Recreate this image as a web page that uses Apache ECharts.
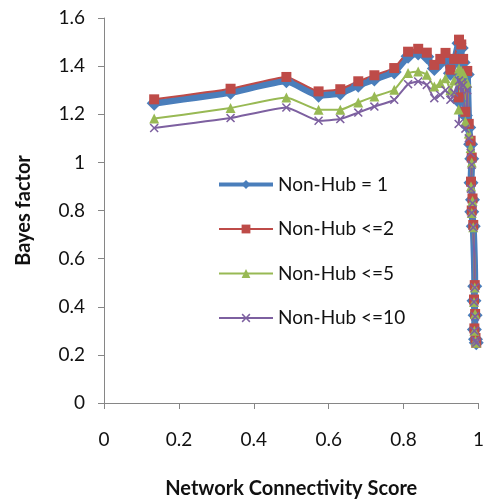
<!DOCTYPE html>
<html>
<head>
<meta charset="utf-8">
<script src="https://cdn.jsdelivr.net/npm/echarts@6/dist/echarts.min.js"></script>
<style>
  html, body { margin: 0; padding: 0; background: #fff; }
  #chart { width: 487px; height: 504px; }
</style>
</head>
<body>
<div id="chart"></div>
<script>
// Network connectivity score (x) shared by all four series
const connectivity = [
  0.134, 0.338, 0.487, 0.573, 0.631, 0.679, 0.722, 0.775, 0.812, 0.839,
  0.862, 0.882, 0.898, 0.912, 0.925, 0.935, 0.948, 0.954, 0.947, 0.959,
  0.965, 0.970, 0.974, 0.979, 0.982, 0.980, 0.984, 0.982, 0.986, 0.990,
  0.988, 0.991, 0.989, 0.992, 0.994
];

// Bayes factor per non-hub threshold
const nonHub1 = [
  1.246, 1.291, 1.339, 1.279, 1.288, 1.321, 1.346, 1.376, 1.441, 1.455,
  1.439, 1.390, 1.415, 1.440, 1.370, 1.415, 1.495, 1.475, 1.255, 1.415,
  1.195, 1.365, 1.145, 1.075, 1.015, 0.915, 0.845, 0.795, 0.735, 0.485,
  0.425, 0.365, 0.305, 0.265, 0.250
];
const nonHub2 = [
  1.262, 1.306, 1.355, 1.295, 1.304, 1.337, 1.362, 1.392, 1.460, 1.472,
  1.456, 1.405, 1.430, 1.455, 1.385, 1.430, 1.510, 1.490, 1.270, 1.430,
  1.210, 1.380, 1.160, 1.090, 1.020, 0.920, 0.850, 0.800, 0.740, 0.490,
  0.430, 0.370, 0.310, 0.270, 0.250
];
const nonHub5 = [
  1.182, 1.226, 1.270, 1.219, 1.219, 1.249, 1.274, 1.302, 1.371, 1.378,
  1.364, 1.315, 1.330, 1.350, 1.300, 1.340, 1.390, 1.380, 1.220, 1.370,
  1.170, 1.330, 1.120, 1.060, 1.000, 0.900, 0.840, 0.790, 0.730, 0.480,
  0.420, 0.370, 0.300, 0.260, 0.250
];
const nonHub10 = [
  1.143, 1.184, 1.228, 1.173, 1.180, 1.207, 1.232, 1.260, 1.325, 1.336,
  1.322, 1.267, 1.280, 1.300, 1.260, 1.290, 1.340, 1.330, 1.160, 1.320,
  1.140, 1.300, 1.100, 1.040, 0.990, 0.890, 0.830, 0.790, 0.730, 0.480,
  0.420, 0.360, 0.300, 0.260, 0.250
];

const seriesNames = ['Non-Hub = 1', 'Non-Hub <=2', 'Non-Hub <=5', 'Non-Hub <=10'];
const xTicks = [0, 0.2, 0.4, 0.6, 0.8, 1];
const yTicks = [0, 0.2, 0.4, 0.6, 0.8, 1, 1.2, 1.4, 1.6];

const FONT = 'Lato, "Open Sans", sans-serif';
const AXIS_GRAY = '#868686';
const COLORS = ['#4A7EBB', '#BE4B48', '#98B954', '#7D60A0'];

const crossPath = 'path://M0,1.2 L1.2,0 L5,3.8 L8.8,0 L10,1.2 L6.2,5 L10,8.8 L8.8,10 L5,6.2 L1.2,10 L0,8.8 L3.8,5 Z';

function pairs(ys) {
  return connectivity.map((x, i) => [x, ys[i]]);
}

function makeSeries(name, ys, color, width, symbol, size) {
  return {
    name: name,
    type: 'line',
    data: pairs(ys),
    smooth: 0.15,
    symbol: symbol,
    symbolSize: size,
    showAllSymbol: true,
    lineStyle: { color: color, width: width },
    itemStyle: { color: color, borderWidth: 0 },
    emphasis: { disabled: true },
    animation: false
  };
}

const chart = echarts.init(document.getElementById('chart'), null, { renderer: 'canvas' });

chart.setOption({
  backgroundColor: '#ffffff',
  animation: false,
  textStyle: { fontFamily: FONT },
  grid: { left: 104, right: 2, top: 18, bottom: 100, containLabel: false },
  legend: {
    orient: 'vertical',
    left: 217,
    top: 175,
    padding: 0,
    itemWidth: 54,
    itemHeight: 11,
    itemGap: 25.5,
    textStyle: { fontFamily: FONT, fontSize: 19, color: '#111' },
    data: [
      { name: seriesNames[0], lineStyle: { width: 4 } },
      { name: seriesNames[1], lineStyle: { width: 2 } },
      { name: seriesNames[2], lineStyle: { width: 2 } },
      { name: seriesNames[3], lineStyle: { width: 2 } }
    ]
  },
  xAxis: {
    type: 'value',
    min: 0,
    max: 1,
    interval: 0.2,
    name: 'Network Connectivity Score',
    nameLocation: 'middle',
    nameGap: 76,
    nameTextStyle: { fontFamily: FONT, fontSize: 20, fontWeight: 'bold', color: '#111' },
    axisLine: { show: true, onZero: false, lineStyle: { color: AXIS_GRAY, width: 1 } },
    axisTick: { show: true, length: 6, inside: false, lineStyle: { color: AXIS_GRAY } },
    splitLine: { show: false },
    axisLabel: {
      margin: 27,
      fontSize: 19,
      color: '#111',
      fontFamily: FONT,
      formatter: v => {
        const t = xTicks.find(k => Math.abs(k - v) < 1e-9);
        return t === undefined ? '' : String(t);
      }
    }
  },
  yAxis: {
    type: 'value',
    min: 0,
    max: 1.6,
    interval: 0.2,
    name: 'Bayes factor',
    nameLocation: 'middle',
    nameGap: 70,
    nameTextStyle: { fontFamily: FONT, fontSize: 20, fontWeight: 'bold', color: '#111' },
    axisLine: { show: true, lineStyle: { color: AXIS_GRAY, width: 1 } },
    axisTick: { show: true, length: 6, inside: false, lineStyle: { color: AXIS_GRAY } },
    splitLine: { show: false },
    axisLabel: {
      margin: 19,
      fontSize: 19,
      color: '#111',
      fontFamily: FONT,
      formatter: v => {
        const t = yTicks.find(k => Math.abs(k - v) < 1e-9);
        return t === undefined ? '' : String(t);
      }
    }
  },
  series: [
    makeSeries(seriesNames[0], nonHub1, COLORS[0], 7, 'diamond', 15),
    makeSeries(seriesNames[1], nonHub2, COLORS[1], 2, 'rect', 10),
    makeSeries(seriesNames[2], nonHub5, COLORS[2], 2, 'triangle', 10),
    makeSeries(seriesNames[3], nonHub10, COLORS[3], 2, crossPath, 9)
  ]
});
</script>
</body>
</html>
